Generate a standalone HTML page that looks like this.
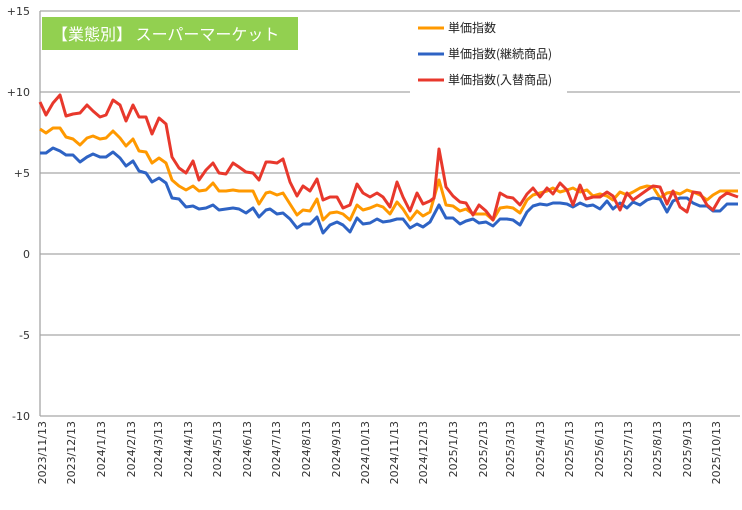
<!DOCTYPE html>
<html><head><meta charset="utf-8"><style>
body{margin:0;background:#fff;}
svg{display:block;font-family:"DejaVu Sans","Liberation Sans","Noto Sans CJK JP",sans-serif;}
</style></head><body>
<svg width="742" height="510" xmlns="http://www.w3.org/2000/svg">
<rect width="742" height="510" fill="#fff"/>
<g stroke="#a6a6a6" stroke-width="1.3">
<line x1="40" y1="11" x2="740" y2="11"/>
<line x1="40" y1="92" x2="740" y2="92"/>
<line x1="40" y1="173" x2="740" y2="173"/>
<line x1="40" y1="254" x2="740" y2="254"/>
<line x1="40" y1="335" x2="740" y2="335"/>
<line x1="40" y1="416" x2="740" y2="416"/>
<line x1="40" y1="11" x2="40" y2="416"/>
</g>
<g font-size="11" fill="#333" text-anchor="end">
<text x="30" y="15">+15</text><text x="30" y="96">+10</text><text x="30" y="177">+5</text>
<text x="30" y="258">0</text><text x="30" y="339">-5</text><text x="30" y="420">-10</text>
</g>
<g font-size="11" fill="#333" text-anchor="end">
<text transform="translate(46,421) rotate(-90)">2023/11/13</text>
<text transform="translate(75,421) rotate(-90)">2023/12/13</text>
<text transform="translate(105,421) rotate(-90)">2024/1/13</text>
<text transform="translate(135,421) rotate(-90)">2024/2/13</text>
<text transform="translate(162,421) rotate(-90)">2024/3/13</text>
<text transform="translate(192,421) rotate(-90)">2024/4/13</text>
<text transform="translate(221,421) rotate(-90)">2024/5/13</text>
<text transform="translate(251,421) rotate(-90)">2024/6/13</text>
<text transform="translate(280,421) rotate(-90)">2024/7/13</text>
<text transform="translate(310,421) rotate(-90)">2024/8/13</text>
<text transform="translate(340,421) rotate(-90)">2024/9/13</text>
<text transform="translate(369,421) rotate(-90)">2024/10/13</text>
<text transform="translate(398,421) rotate(-90)">2024/11/13</text>
<text transform="translate(427,421) rotate(-90)">2024/12/13</text>
<text transform="translate(457,421) rotate(-90)">2025/1/13</text>
<text transform="translate(487,421) rotate(-90)">2025/2/13</text>
<text transform="translate(514,421) rotate(-90)">2025/3/13</text>
<text transform="translate(544,421) rotate(-90)">2025/4/13</text>
<text transform="translate(573,421) rotate(-90)">2025/5/13</text>
<text transform="translate(603,421) rotate(-90)">2025/6/13</text>
<text transform="translate(632,421) rotate(-90)">2025/7/13</text>
<text transform="translate(661,421) rotate(-90)">2025/8/13</text>
<text transform="translate(691,421) rotate(-90)">2025/9/13</text>
<text transform="translate(720,421) rotate(-90)">2025/10/13</text>
</g>
<g fill="none" stroke-width="3" stroke-linejoin="round">
<polyline stroke="#ff9900" points="40,129 46,133 53,128 60,128 66,137 73,139 80,145 87,138 93,136 100,139 106,138 113,131 120,138 126,146 133,139 139,151 146,152 152,163 159,158 166,163 172,180 179,186 186,190 193,186 199,191 206,190 213,183 219,191 226,191 233,190 239,191 246,191 253,191 259,204 266,193 270,192 277,195 283,193 290,204 297,215 303,210 310,211 317,199 323,220 330,213 337,212 343,214 350,220 357,205 363,210 370,208 377,205 383,207 390,214 397,202 403,209 410,220 417,211 423,216 430,212 439,180 446,205 453,206 460,211 466,209 473,214 479,214 486,214 493,220 500,208 507,207 513,208 520,213 527,200 533,195 540,193 547,191 553,188 560,192 567,190 573,188 580,192 587,190 593,196 600,194 607,196 613,200 620,192 627,195 633,192 640,188 647,186 653,187 660,198 667,193 673,192 680,194 687,190 693,192 700,195 707,200 713,195 720,191 727,191 738,191"/>
<polyline stroke="#2e63c4" points="40,153 46,153 53,148 60,151 66,155 73,155 80,162 87,157 93,154 100,157 106,157 113,152 120,158 126,166 133,161 139,171 146,173 152,182 159,178 166,183 172,198 179,199 186,207 193,206 199,209 206,208 213,205 219,210 226,209 233,208 239,209 246,213 253,208 259,217 266,210 270,209 277,214 283,213 290,219 297,228 303,224 310,224 317,217 323,233 330,225 337,222 343,225 350,232 357,218 363,224 370,223 377,219 383,222 390,221 397,219 403,219 410,228 417,224 423,227 430,222 439,205 446,218 453,218 460,224 466,221 473,219 479,223 486,222 493,226 500,219 507,219 513,220 520,225 527,212 533,206 540,204 547,205 553,203 560,203 567,204 573,207 580,203 587,206 593,205 600,209 607,201 613,209 620,203 627,208 633,202 640,205 647,200 653,198 660,199 667,212 673,201 680,198 687,198 693,203 700,206 707,206 713,211 720,211 727,204 738,204"/>
<polyline stroke="#e8382c" points="40,102 46,115 53,103 60,95 66,116 73,114 80,113 87,105 93,111 100,117 106,115 113,100 120,105 126,121 133,105 139,117 146,117 152,134 159,118 166,124 172,157 179,168 186,173 193,161 199,180 206,170 213,163 219,173 226,174 233,163 239,167 246,172 253,173 259,180 266,162 270,162 277,163 283,159 290,182 297,196 303,186 310,191 317,179 323,200 330,197 337,197 343,208 350,205 357,184 363,193 370,197 377,193 383,197 390,207 397,182 403,197 410,211 417,193 423,204 430,201 434,198 439,149 446,187 453,196 460,202 466,203 473,215 479,205 486,211 493,220 500,193 507,197 513,198 520,205 527,194 533,188 540,197 547,188 553,194 560,183 567,190 573,205 580,185 586,199 593,197 600,197 607,192 613,196 620,210 627,193 633,200 640,195 647,190 653,186 660,187 667,204 673,191 680,207 687,212 693,192 700,193 707,205 713,210 720,198 727,193 738,197"/>
</g>
<rect x="410" y="12" width="157" height="82" fill="#fff"/>
<g stroke-width="3">
<line x1="418" y1="28" x2="444" y2="28" stroke="#ff9900"/>
<line x1="418" y1="54" x2="444" y2="54" stroke="#2e63c4"/>
<line x1="418" y1="80" x2="444" y2="80" stroke="#e8382c"/>
</g>
<g font-size="12" fill="#222" font-family="'Noto Sans CJK JP',sans-serif">
<text x="448" y="32">単価指数</text>
<text x="448" y="58">単価指数(継続商品)</text>
<text x="448" y="84">単価指数(入替商品)</text>
</g>
<rect x="42" y="17" width="256" height="33" fill="#92d050"/>
<text x="52" y="40" font-size="16" fill="#fff" font-family="'Noto Sans CJK JP',sans-serif">【業態別】 スーパーマーケット</text>
</svg>
</body></html>
